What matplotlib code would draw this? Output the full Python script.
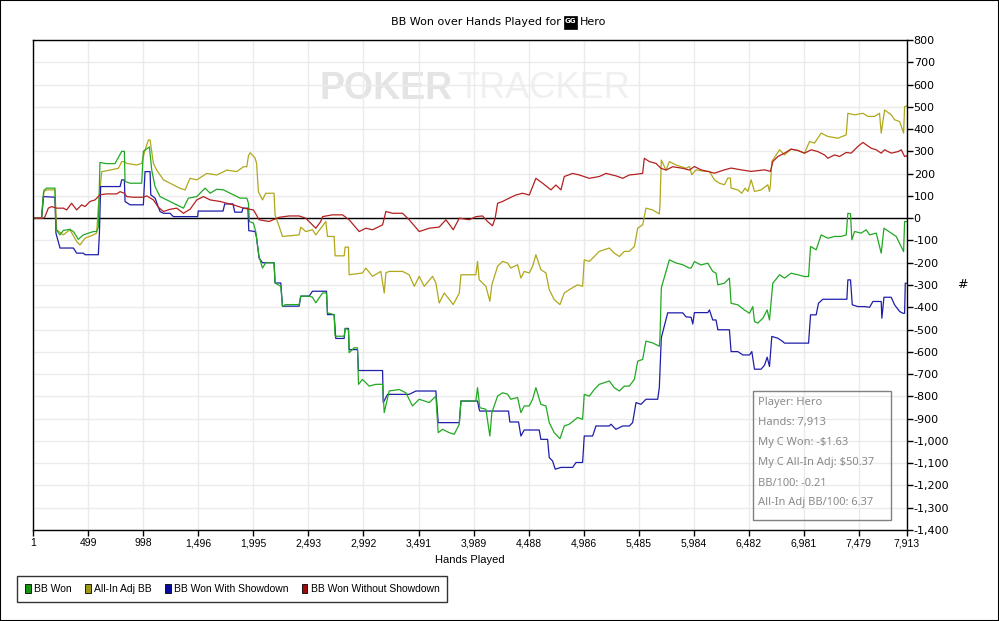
import matplotlib
matplotlib.use("Agg")
import matplotlib.pyplot as plt
from matplotlib import font_manager
from matplotlib.patches import Rectangle, Patch

# hands / values
green_hands = [1, 76, 92, 98, 122, 197, 206, 243, 273, 333, 364, 409, 454, 545, 575, 590, 605, 666, 741, 802, 826, 832, 877, 983, 998, 1053, 1074, 1104, 1149, 1210, 1300, 1361, 1406, 1482, 1557, 1603, 1663, 1724, 1784, 1875, 1935, 1950, 1959, 1995, 2016, 2022, 2046, 2077, 2107, 2182, 2191, 2243, 2258, 2288, 2409, 2424, 2500, 2530, 2560, 2621, 2657, 2666, 2726, 2735, 2817, 2826, 2856, 2862, 2908, 2938, 2947, 2983, 3044, 3104, 3165, 3180, 3225, 3316, 3376, 3436, 3497, 3588, 3648, 3669, 3708, 3769, 3814, 3860, 3875, 3950, 4010, 4025, 4046, 4101, 4137, 4155, 4207, 4252, 4297, 4327, 4388, 4418, 4448, 4494, 4524, 4554, 4599, 4645, 4675, 4720, 4772, 4811, 4856, 4932, 4977, 4992, 5038, 5083, 5128, 5219, 5264, 5310, 5355, 5400, 5446, 5476, 5521, 5551, 5612, 5672, 5678, 5690, 5763, 5823, 5884, 5944, 5960, 5990, 6050, 6111, 6156, 6186, 6202, 6262, 6307, 6322, 6383, 6443, 6489, 6519, 6534, 6564, 6610, 6649, 6670, 6700, 6761, 6806, 6866, 6927, 6987, 7024, 7042, 7093, 7138, 7199, 7259, 7320, 7365, 7380, 7404, 7416, 7441, 7501, 7546, 7577, 7637, 7682, 7707, 7773, 7818, 7885, 7894, 7913]
green_vals = [0, 0, 110, 125, 135, 135, -50, -75, -55, -50, -60, -95, -75, -60, -60, -40, 250, 245, 245, 300, 300, 165, 157, 157, 300, 320, 215, 142, 97, 82, 60, 45, 90, 97, 135, 112, 130, 127, 112, 90, 90, 67, -15, -22, -60, -82, -172, -224, -200, -200, -291, -306, -395, -388, -388, -350, -350, -355, -380, -336, -336, -425, -433, -530, -530, -495, -500, -604, -582, -582, -746, -724, -754, -746, -746, -873, -776, -769, -784, -843, -813, -828, -799, -963, -948, -963, -970, -925, -821, -821, -821, -761, -851, -858, -978, -873, -799, -784, -790, -813, -805, -873, -843, -843, -813, -761, -836, -843, -918, -963, -990, -933, -925, -895, -903, -791, -799, -769, -746, -731, -761, -776, -754, -754, -724, -642, -634, -552, -560, -575, -537, -313, -187, -201, -209, -224, -224, -195, -210, -202, -239, -247, -299, -292, -269, -382, -389, -412, -427, -397, -464, -471, -449, -412, -457, -292, -254, -269, -247, -254, -262, -262, -127, -142, -75, -90, -82, -82, -75, 22, 20, -97, -60, -67, -52, -75, -67, -157, -45, -67, -82, -150, -15, -16]

allin_hands = [1, 76, 98, 122, 197, 213, 273, 333, 394, 424, 469, 545, 575, 590, 621, 696, 772, 802, 826, 847, 938, 983, 1013, 1044, 1059, 1089, 1119, 1180, 1240, 1331, 1376, 1421, 1482, 1572, 1663, 1754, 1844, 1905, 1935, 1950, 1965, 2010, 2024, 2040, 2077, 2107, 2182, 2191, 2228, 2258, 2409, 2424, 2469, 2530, 2560, 2651, 2666, 2726, 2735, 2817, 2826, 2856, 2862, 2983, 3013, 3074, 3149, 3180, 3195, 3225, 3346, 3406, 3452, 3497, 3542, 3618, 3648, 3678, 3724, 3805, 3860, 3875, 4010, 4025, 4040, 4101, 4137, 4155, 4207, 4252, 4297, 4327, 4388, 4418, 4448, 4494, 4524, 4554, 4599, 4645, 4675, 4720, 4772, 4811, 4856, 4932, 4977, 4992, 5038, 5083, 5128, 5219, 5264, 5310, 5355, 5400, 5446, 5476, 5521, 5551, 5612, 5672, 5678, 5690, 5733, 5763, 5823, 5914, 5945, 5966, 6005, 6081, 6126, 6171, 6217, 6262, 6292, 6316, 6322, 6383, 6419, 6449, 6474, 6504, 6534, 6594, 6655, 6670, 6679, 6691, 6761, 6806, 6866, 6927, 6987, 7033, 7078, 7138, 7199, 7289, 7365, 7380, 7441, 7516, 7561, 7622, 7667, 7682, 7713, 7773, 7803, 7849, 7885, 7894, 7913]
allin_vals = [0, 0, 120, 127, 127, -52, -75, -52, -105, -120, -90, -75, -67, 52, 209, 216, 224, 254, 254, 246, 239, 246, 306, 351, 351, 246, 216, 172, 157, 134, 127, 179, 172, 201, 194, 216, 209, 231, 231, 280, 294, 270, 245, 119, 82, 112, 112, 15, -37, -82, -75, -40, -60, -52, -75, -15, -82, -82, -169, -169, -130, -130, -254, -246, -224, -261, -239, -336, -245, -239, -239, -254, -306, -261, -306, -261, -291, -381, -336, -388, -336, -254, -254, -194, -276, -306, -373, -299, -216, -194, -201, -224, -209, -269, -239, -246, -216, -164, -231, -246, -321, -366, -388, -336, -321, -299, -306, -187, -194, -172, -149, -134, -157, -172, -149, -149, -127, -45, -30, 45, 37, 19, 60, 261, 216, 254, 239, 224, 232, 195, 217, 210, 210, 172, 157, 150, 180, 180, 135, 127, 112, 135, 120, 172, 120, 127, 150, 120, 150, 254, 307, 284, 310, 304, 292, 344, 337, 382, 367, 359, 374, 471, 464, 471, 457, 457, 471, 382, 486, 464, 442, 434, 382, 501, 504]

sd_hands = [1, 76, 92, 197, 206, 243, 364, 394, 454, 469, 590, 600, 611, 787, 802, 826, 832, 877, 998, 1013, 1059, 1065, 1104, 1149, 1180, 1240, 1270, 1490, 1495, 1720, 1735, 1810, 1826, 1890, 1900, 1945, 1953, 2010, 2022, 2046, 2077, 2182, 2191, 2243, 2258, 2409, 2424, 2500, 2530, 2657, 2666, 2726, 2741, 2817, 2826, 2856, 2862, 2938, 2947, 3165, 3171, 3210, 3406, 3467, 3648, 3669, 3860, 3875, 4025, 4040, 4046, 4306, 4318, 4397, 4418, 4448, 4584, 4599, 4660, 4675, 4705, 4729, 4781, 4887, 4917, 4977, 4992, 5068, 5098, 5219, 5234, 5279, 5340, 5400, 5430, 5461, 5506, 5551, 5657, 5672, 5690, 5748, 5884, 5914, 5960, 5975, 5990, 6111, 6126, 6156, 6186, 6202, 6307, 6322, 6383, 6428, 6489, 6510, 6534, 6594, 6625, 6649, 6670, 6691, 6746, 6791, 6806, 7024, 7042, 7093, 7114, 7153, 7371, 7380, 7404, 7420, 7471, 7531, 7577, 7607, 7682, 7688, 7707, 7773, 7803, 7849, 7879, 7894, 7900, 7913]
sd_vals = [0, 0, 97, 94, -67, -134, -134, -157, -157, -164, -164, -67, 142, 142, 172, 172, 75, 60, 60, 209, 209, 105, 90, 30, 22, 22, 7, 7, 32, 32, 64, 64, 27, 27, 45, 45, -56, -60, -83, -179, -200, -200, -291, -291, -395, -395, -350, -350, -328, -328, -433, -433, -540, -540, -495, -495, -590, -590, -684, -684, -828, -791, -791, -776, -776, -918, -918, -821, -821, -858, -866, -866, -915, -915, -978, -951, -951, -993, -993, -1075, -1090, -1127, -1119, -1119, -1097, -1097, -978, -978, -933, -933, -925, -948, -933, -933, -918, -828, -836, -813, -813, -761, -537, -425, -425, -443, -445, -475, -424, -424, -412, -457, -457, -501, -501, -599, -599, -614, -614, -599, -678, -678, -660, -624, -666, -531, -539, -554, -561, -561, -434, -434, -382, -364, -364, -277, -277, -389, -397, -397, -400, -374, -374, -449, -355, -355, -389, -419, -427, -427, -292, -292]

nsd_hands = [1, 92, 107, 137, 167, 213, 273, 303, 348, 394, 439, 469, 515, 560, 605, 666, 757, 787, 826, 847, 908, 998, 1028, 1089, 1134, 1180, 1240, 1300, 1361, 1421, 1482, 1542, 1603, 1693, 1754, 1814, 1905, 1995, 2016, 2046, 2137, 2228, 2318, 2409, 2469, 2560, 2605, 2621, 2711, 2802, 2862, 2953, 3013, 3074, 3165, 3195, 3255, 3346, 3406, 3497, 3588, 3678, 3739, 3805, 3860, 3950, 4010, 4071, 4116, 4161, 4185, 4207, 4252, 4312, 4373, 4433, 4494, 4554, 4615, 4690, 4735, 4781, 4811, 4887, 4947, 5038, 5128, 5189, 5279, 5340, 5400, 5461, 5521, 5536, 5582, 5642, 5687, 5733, 5793, 5884, 5944, 5990, 6050, 6111, 6171, 6262, 6322, 6413, 6504, 6625, 6679, 6700, 6746, 6806, 6866, 6927, 6987, 7048, 7108, 7169, 7199, 7259, 7305, 7365, 7410, 7471, 7516, 7592, 7637, 7682, 7713, 7773, 7834, 7864, 7894, 7913]
nsd_vals = [0, 0, 7, 45, 52, 45, 45, 37, 67, 37, 60, 52, 75, 82, 105, 109, 109, 119, 112, 97, 94, 94, 100, 82, 49, 30, 40, 45, 22, 40, 82, 97, 82, 75, 67, 60, 45, 37, 20, -7, -15, 4, 10, 10, 0, -45, -15, 7, 15, 15, -7, -60, -45, -52, -30, 30, 22, 22, -7, -60, -45, -40, -7, -52, 0, -7, 7, 10, -15, -34, 0, 67, 75, 90, 104, 112, 104, 179, 157, 127, 149, 127, 187, 201, 194, 179, 187, 201, 190, 179, 194, 197, 201, 269, 254, 246, 224, 216, 231, 224, 216, 232, 217, 210, 202, 217, 225, 217, 210, 217, 210, 254, 277, 292, 310, 304, 292, 307, 299, 284, 269, 284, 277, 295, 292, 322, 340, 314, 307, 292, 307, 292, 299, 307, 277, 280]

x_ticks = [1, 499, 998, 1496, 1995, 2493, 2992, 3491, 3989, 4488, 4986, 5485, 5984, 6482, 6981, 7479, 7913]
y_ticks = list(range(-1400, 801, 100))

series_names = ["BB Won", "All-In Adj BB", "BB Won With Showdown", "BB Won Without Showdown"]
line_colors = ["#22a822", "#b0a81c", "#1e1eaa", "#b42020"]
legend_colors = ["#129612", "#9c9810", "#0a0aa0", "#a00a0a"]

stats_lines = ["Player: Hero", "Hands: 7,913", "My C Won: -$1.63", "My C All-In Adj: $50.37",
               "BB/100: -0.21", "All-In Adj BB/100: 6.37"]

W, H = 999, 621
available = {f.name for f in font_manager.fontManager.ttflist}
if "Liberation Sans Narrow" in available:
    NARROW = ["Liberation Sans Narrow", "DejaVu Sans"]
elif "Liberation Sans" in available:
    NARROW = ["Liberation Sans", "DejaVu Sans"]
else:
    NARROW = ["DejaVu Sans"]
plt.rcParams["font.family"] = ["DejaVu Sans"]


def fx(px):
    return px / W


def fy(py):
    return 1 - py / H


def main():
    fig = plt.figure(figsize=(W / 100, H / 100), dpi=100)
    fig.patch.set_facecolor("white")
    fig.patches.append(Rectangle((0, 0), 1, 1, transform=fig.transFigure, fill=False,
                                 ec="black", lw=1.5))

    ax = fig.add_axes([fx(33.3), fy(530), fx(906.7 - 33.3), 490 / H])
    ax.set_xlim(1, 7913)
    ax.set_ylim(-1400, 800)

    # grid + zero line
    ax.set_xticks(x_ticks)
    ax.set_yticks(y_ticks)
    ax.grid(True, color="#ebebeb", lw=1.0, zorder=0)
    ax.axhline(0, color="black", lw=1.0, zorder=2.6)

    # watermark
    ax.text(fx(320), fy(89), "POKER", transform=fig.transFigure, fontsize=27, fontweight="bold",
            color="#e4e4e4", family=NARROW, ha="left", va="center", zorder=0.5)
    ax.text(fx(457), fy(89), "TRACKER", transform=fig.transFigure, fontsize=26,
            color="#f0f0f0", family=NARROW, ha="left", va="center", zorder=0.5)

    ax.plot(allin_hands, allin_vals, color=line_colors[1], lw=0.9, zorder=3)
    ax.plot(sd_hands, sd_vals, color=line_colors[2], lw=0.9, zorder=4)
    ax.plot(green_hands, green_vals, color=line_colors[0], lw=0.9, zorder=5)
    ax.plot(nsd_hands, nsd_vals, color=line_colors[3], lw=0.9, zorder=6)

    for s in ax.spines.values():
        s.set_color("black")
        s.set_linewidth(1.0)
        s.set_zorder(7)

    ax.yaxis.tick_right()
    ax.set_yticklabels([f"{v:,}" for v in y_ticks])
    ax.set_xticklabels([f"{v:,}" for v in x_ticks], family=NARROW)
    ax.tick_params(axis="y", direction="out", length=4, width=1, labelsize=8, pad=1)
    ax.tick_params(axis="x", direction="out", length=4, width=1, labelsize=7.5, pad=2)
    ax.set_xlabel("Hands Played", fontsize=8, family=NARROW, labelpad=5)

    fig.text(fx(962), fy(285), "#", fontsize=9, ha="center", va="center")

    # title with the small site icon
    fig.text(fx(561), fy(22), "BB Won over Hands Played for", fontsize=8, ha="right", va="center")
    fig.patches.append(Rectangle((fx(564), fy(29)), 13 / W, 13 / H, transform=fig.transFigure,
                                 fc="black", ec="black", lw=0.5))
    fig.text(fx(570.5), fy(21), "GG", fontsize=5, color="white", fontweight="bold",
             ha="center", va="center")
    fig.text(fx(580), fy(22), "Hero", fontsize=8, ha="left", va="center")

    # stats box
    fig.patches.append(Rectangle((fx(753.3), fy(519.7)), (890.7 - 753.3) / W, (519.7 - 390.7) / H,
                                 transform=fig.transFigure, fill=False, ec="#808080", lw=1.0))
    for i, line in enumerate(stats_lines):
        fig.text(fx(758), fy(403 + 20 * i), line, fontsize=8, color="#8a8a8a",
                 family=["Noto Sans", "DejaVu Sans"], ha="left", va="center")

    # legend
    handles = [Patch(facecolor=c, edgecolor="black", lw=0.6) for c in legend_colors]
    leg = fig.legend(handles, series_names, loc="lower left",
                     bbox_to_anchor=(fx(17), fy(602)), ncol=4, frameon=True,
                     fancybox=False, edgecolor="black", handlelength=0.55, handleheight=0.9,
                     handletextpad=0.3, columnspacing=1.3, borderpad=0.75, borderaxespad=0,
                     prop={"family": NARROW, "size": 7.5})
    leg.get_frame().set_linewidth(1.0)

    fig.savefig("out.png", dpi=100, facecolor="white")
    plt.close(fig)


if __name__ == "__main__":
    main()
